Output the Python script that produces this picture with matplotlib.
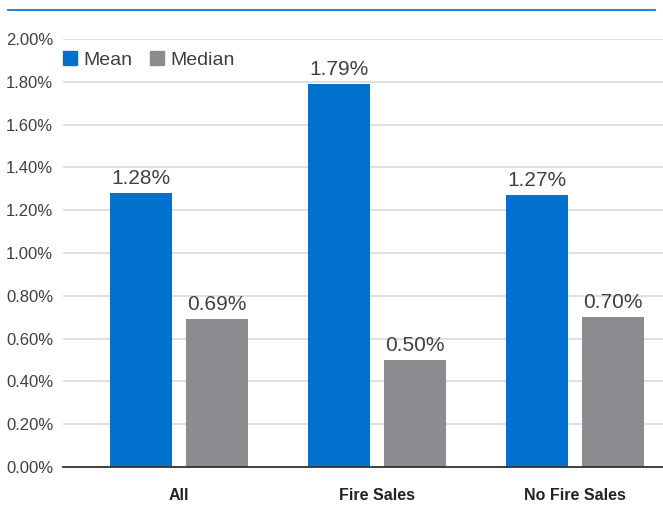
import numpy as np
import matplotlib.pyplot as plt
from matplotlib.lines import Line2D
from matplotlib.patches import Patch

categories = ["All", "Fire Sales", "No Fire Sales"]
mean_vals = [1.28, 1.79, 1.27]
median_vals = [0.69, 0.50, 0.70]
yticks = [0.0, 0.2, 0.4, 0.6, 0.8, 1.0, 1.2, 1.4, 1.6, 1.8, 2.0]

blue = "#0072CE"
grey = "#8C8C90"
plt.rcParams['font.family'] = ["Liberation Sans", "DejaVu Sans"]

fig = plt.figure(figsize=(6.63, 5.31), dpi=100)
ax = fig.add_axes([0.095, 0.1205, 0.905, 0.806])

x = np.arange(len(categories))
w = 0.313
off = 0.192
b1 = ax.bar(x - off, mean_vals, w, color=blue, zorder=3)
b2 = ax.bar(x + off, median_vals, w, color=grey, zorder=3)

for bars, vals in ((b1, mean_vals), (b2, median_vals)):
    for b, v in zip(bars, vals):
        ax.text(b.get_x() + b.get_width() / 2, v + 0.025, f"{v:.2f}%",
                ha='center', va='bottom', fontsize=15, color="#404040")

ax.set_xlim(-0.586, 2.444)
ax.set_ylim(0, 2.0)
ax.set_yticks(yticks)
ax.set_yticklabels([f"{t:.2f}%" for t in yticks], fontsize=12, color="#404040")
ax.set_xticks(x)
ax.set_xticklabels(categories, fontsize=11.5, fontweight='bold', color="#222222")
ax.tick_params(axis='both', length=0)
ax.tick_params(axis='x', pad=15)
ax.tick_params(axis='y', pad=7)
ax.grid(axis='y', color="#DADADA", linewidth=1.2, zorder=0)
for s in ['top', 'right', 'left']:
    ax.spines[s].set_visible(False)
ax.spines['bottom'].set_color("#333333")
ax.spines['bottom'].set_linewidth(1.3)
ax.spines['bottom'].set_zorder(4)

handles = [Patch(color=blue, label="Mean"), Patch(color=grey, label="Median")]
fig.legend(handles=handles, loc='upper left', bbox_to_anchor=(0.068, 0.937),
           ncol=2, frameon=False, fontsize=14, handlelength=0.75, handleheight=0.75,
           handletextpad=0.3, columnspacing=0.9, labelcolor="#404040")

fig.add_artist(Line2D([0.012, 0.988], [0.981, 0.981], color="#0A7ADB", linewidth=1.3))

fig.savefig("out.png", dpi=100)
